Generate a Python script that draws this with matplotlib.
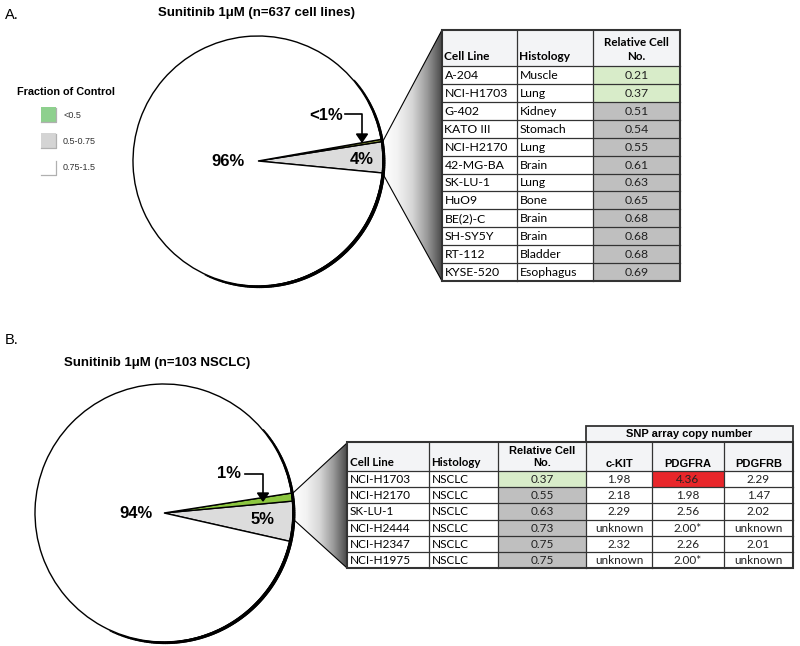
import numpy as np
import matplotlib.pyplot as plt
from matplotlib.patches import Rectangle, Polygon
from matplotlib.collections import LineCollection
from matplotlib.colors import LinearSegmentedColormap

# ---- data ----
# pie fractions (percent): <0.5, 0.5-0.75, 0.75-1.5
pie_a_values = [0.3, 4.0, 95.7]
pie_a_labels = ['<1%', '4%', '96%']
pie_b_values = [1.0, 5.0, 94.0]
pie_b_labels = ['1%', '5%', '94%']

legend_labels = ['<0.5', '0.5-0.75', '0.75-1.5']

a_cell_lines = ['A-204', 'NCI-H1703', 'G-402', 'KATO III', 'NCI-H2170', '42-MG-BA',
                'SK-LU-1', 'HuO9', 'BE(2)-C', 'SH-SY5Y', 'RT-112', 'KYSE-520']
a_histology = ['Muscle', 'Lung', 'Kidney', 'Stomach', 'Lung', 'Brain',
               'Lung', 'Bone', 'Brain', 'Brain', 'Bladder', 'Esophagus']
a_rel = [0.21, 0.37, 0.51, 0.54, 0.55, 0.61, 0.63, 0.65, 0.68, 0.68, 0.68, 0.69]

b_cell_lines = ['NCI-H1703', 'NCI-H2170', 'SK-LU-1', 'NCI-H2444', 'NCI-H2347', 'NCI-H1975']
b_histology = ['NSCLC'] * 6
b_rel = [0.37, 0.55, 0.63, 0.73, 0.75, 0.75]
b_ckit = ['1.98', '2.18', '2.29', 'unknown', '2.32', 'unknown']
b_pdgfra = ['4.36', '1.98', '2.56', '2.00*', '2.26', '2.00*']
b_pdgfrb = ['2.29', '1.47', '2.02', 'unknown', '2.01', 'unknown']

GREEN_CELL = '#d8ecc9'
GRAY_CELL = '#bfbfbf'
RED_CELL = '#e8262a'
HEAD = '#f3f4f6'
LINE = '#333333'
TFONT = 'Lato'
AFONT = 'Liberation Sans'
FS_A = 8.8
FS_B = 8.5

fig = plt.figure(figsize=(8, 6.46), dpi=100)
ax = fig.add_axes([0, 0, 1, 1])


def draw_pie(cx, cy, r, values, start, green):
    # values: green, gray, white ; y axis is flipped so angles are mirrored
    ax.pie([values[1], values[0], values[2]], colors=['#dcdcdc', green, 'white'],
           startangle=-start, counterclock=False, center=(cx, cy), radius=r,
           wedgeprops=dict(edgecolor='black', linewidth=1), frame=True)
    # shadowed lower-right rim
    th = np.linspace(-115, 40, 200)
    xs = cx + (r + 0.8) * np.cos(np.radians(th))
    ys = cy - (r + 0.8) * np.sin(np.radians(th))
    pts = np.column_stack([xs, ys]).reshape(-1, 1, 2)
    segs = np.concatenate([pts[:-1], pts[1:]], axis=1)
    w = 0.5 + 2.2 * np.sin(np.pi * (th[:-1] + 115) / 155) ** 0.6
    ax.add_collection(LineCollection(segs, linewidths=w, colors='black', capstyle='round'))


def draw_fan(pts):
    cmap = LinearSegmentedColormap.from_list('fan', ['white', '#f2f2f2', '#d6d6d6', '#9a9a9a', '#4a4a4a'])
    x0, x1 = pts[0][0], pts[1][0]
    ys = [p[1] for p in pts]
    im = ax.imshow(np.linspace(0, 1, 256)[None, :], cmap=cmap, aspect='auto',
                   extent=(x0, x1, max(ys), min(ys)), zorder=1)
    poly = Polygon(pts, closed=True, facecolor='none', edgecolor='none')
    ax.add_patch(poly)
    im.set_clip_path(poly)
    ax.plot([pts[0][0], pts[1][0]], [pts[0][1], pts[1][1]], color='black', lw=0.8, zorder=2)
    ax.plot([pts[3][0], pts[2][0]], [pts[3][1], pts[2][1]], color='black', lw=0.8, zorder=2)


def draw_arrow(x0, x1, y0, y1):
    ax.plot([x0, x1, x1], [y0, y0, y1 - 7], color='black', lw=1.2, zorder=4)
    ax.add_patch(Polygon([(x1 - 5.5, y1 - 8), (x1 + 5.5, y1 - 8), (x1, y1)],
                         closed=True, facecolor='black', edgecolor='black', zorder=4))


def rel_color(v):
    return GREEN_CELL if v < 0.5 else GRAY_CELL


# ---- panel A ----
ax.text(5, 15, 'A.', fontsize=10.5, family=AFONT, va='center')
ax.text(256, 13, 'Sunitinib 1μM (n=637 cell lines)', fontsize=9.5, weight='bold',
        family=AFONT, ha='center', va='center')

draw_fan([(383, 141), (442, 30), (442, 281), (383, 174)])
draw_pie(258, 161, 125, pie_a_values, -5.5, '#9aaa3a')
ax.text(228, 161, pie_a_labels[2], fontsize=12, weight='bold', family=AFONT, ha='center', va='center')
ax.text(362, 159, pie_a_labels[1], fontsize=12, weight='bold', family=AFONT, ha='center', va='center')
ax.text(326, 115, pie_a_labels[0], fontsize=12, weight='bold', family=AFONT, ha='center', va='center')
draw_arrow(345, 362, 114, 142)

# legend
ax.text(17, 92, 'Fraction of Control', fontsize=7.8, weight='bold', family=AFONT, va='center')
leg_colors = ['#8ed08e', '#d4d4d4', 'white']
leg_y = [107, 133, 160]
for c, y, lab in zip(leg_colors, leg_y, legend_labels):
    ax.add_patch(Rectangle((41, y), 15, 15, facecolor=c, edgecolor='none', zorder=3))
    ax.plot([56, 56, 41], [y + 1, y + 15, y + 15], color='#b0b0b0', lw=0.9, zorder=3)
    ax.text(63, y + 8, lab, fontsize=6.5, family=AFONT, va='center', color='#333333')

# table A
ca = [442, 517, 593, 680]
top_a, head_a, bot_a = 30, 66, 281
rh = (bot_a - head_a) / len(a_cell_lines)
ax.add_patch(Rectangle((ca[0], top_a), ca[-1] - ca[0], head_a - top_a, facecolor=HEAD, edgecolor='none', zorder=2))
for i, (cl, hs, v) in enumerate(zip(a_cell_lines, a_histology, a_rel)):
    y = head_a + i * rh
    ax.add_patch(Rectangle((ca[0], y), ca[2] - ca[0], rh, facecolor='white', edgecolor='none', zorder=2))
    ax.add_patch(Rectangle((ca[2], y), ca[3] - ca[2], rh, facecolor=rel_color(v), edgecolor='none', zorder=2))
    ax.text(ca[0] + 2.5, y + rh / 2 + 0.5, cl, fontsize=FS_A, family=TFONT, va='center', zorder=4)
    ax.text(ca[1] + 2.5, y + rh / 2 + 0.5, hs, fontsize=FS_A, family=TFONT, va='center', zorder=4)
    ax.text((ca[2] + ca[3]) / 2, y + rh / 2 + 0.5, f'{v:.2f}', fontsize=FS_A, family=TFONT,
            ha='center', va='center', color='#222222', zorder=4)
ax.text(ca[0] + 2.5, 57, 'Cell Line', fontsize=8.6, weight='bold', family=TFONT, va='center', zorder=4)
ax.text(ca[1] + 2.5, 57, 'Histology', fontsize=8.6, weight='bold', family=TFONT, va='center', zorder=4)
ax.text((ca[2] + ca[3]) / 2, 43, 'Relative Cell', fontsize=8.4, weight='bold', family=TFONT, ha='center', va='center', zorder=4)
ax.text((ca[2] + ca[3]) / 2, 57, 'No.', fontsize=8.4, weight='bold', family=TFONT, ha='center', va='center', zorder=4)
for x in ca[1:-1]:
    ax.plot([x, x], [top_a, bot_a], color=LINE, lw=0.9, zorder=3)
for i in range(len(a_cell_lines)):
    y = head_a + i * rh
    ax.plot([ca[0], ca[-1]], [y, y], color=LINE, lw=0.9, zorder=3)
ax.add_patch(Rectangle((ca[0], top_a), ca[-1] - ca[0], bot_a - top_a, facecolor='none', edgecolor=LINE, lw=1.5, zorder=3))

# ---- panel B ----
ax.text(5, 340, 'B.', fontsize=10.5, family=AFONT, va='center')
ax.text(157, 363, 'Sunitinib 1μM (n=103 NSCLC)', fontsize=9.5, weight='bold',
        family=AFONT, ha='center', va='center')

draw_fan([(293, 493), (347, 443), (347, 568), (293, 519)])
draw_pie(164, 513, 129, pie_b_values, -12.7, '#8cc63f')
ax.text(136, 513, pie_b_labels[2], fontsize=12, weight='bold', family=AFONT, ha='center', va='center')
ax.text(263, 519, pie_b_labels[1], fontsize=12, weight='bold', family=AFONT, ha='center', va='center')
ax.text(229, 474, pie_b_labels[0], fontsize=12, weight='bold', family=AFONT, ha='center', va='center')
draw_arrow(245, 263, 474, 501)

# table B
cb = [347, 429, 498, 586, 652, 724, 793]
snp_top, top_b, head_b, bot_b = 426, 442, 471, 568
rhb = (bot_b - head_b) / len(b_cell_lines)
ax.add_patch(Rectangle((cb[3], snp_top), cb[-1] - cb[3], top_b - snp_top, facecolor=HEAD, edgecolor=LINE, lw=1.3, zorder=3))
ax.text((cb[3] + cb[-1]) / 2, 434, 'SNP array copy number', fontsize=8, weight='bold', family=AFONT,
        ha='center', va='center', zorder=4)
ax.add_patch(Rectangle((cb[0], top_b), cb[-1] - cb[0], head_b - top_b, facecolor=HEAD, edgecolor='none', zorder=2))
for i in range(len(b_cell_lines)):
    y = head_b + i * rhb
    cells = [b_cell_lines[i], b_histology[i], f'{b_rel[i]:.2f}', b_ckit[i], b_pdgfra[i], b_pdgfrb[i]]
    fills = ['white', 'white', rel_color(b_rel[i]), 'white',
             RED_CELL if float(b_pdgfra[i].rstrip('*')) > 4 else 'white', 'white']
    for j, (txt, fc) in enumerate(zip(cells, fills)):
        ax.add_patch(Rectangle((cb[j], y), cb[j + 1] - cb[j], rhb, facecolor=fc, edgecolor='none', zorder=2))
        if j < 2:
            ax.text(cb[j] + 2.5, y + rhb / 2 + 0.5, txt, fontsize=FS_B, family=TFONT, va='center', zorder=4)
        else:
            ax.text((cb[j] + cb[j + 1]) / 2, y + rhb / 2 + 0.5, txt, fontsize=FS_B, family=TFONT,
                    ha='center', va='center', color='#222222', zorder=4)
ax.text(cb[0] + 2.5, 463, 'Cell Line', fontsize=8.3, weight='bold', family=TFONT, va='center', zorder=4)
ax.text(cb[1] + 2.5, 463, 'Histology', fontsize=8.3, weight='bold', family=TFONT, va='center', zorder=4)
ax.text((cb[2] + cb[3]) / 2, 451, 'Relative Cell', fontsize=8, weight='bold', family=AFONT, ha='center', va='center', zorder=4)
ax.text((cb[2] + cb[3]) / 2, 463, 'No.', fontsize=8, weight='bold', family=AFONT, ha='center', va='center', zorder=4)
for j, lab in enumerate(['c-KIT', 'PDGFRA', 'PDGFRB']):
    ax.text((cb[3 + j] + cb[4 + j]) / 2, 464, lab, fontsize=8, weight='bold', family=AFONT,
            ha='center', va='center', zorder=4)
for x in cb[1:-1]:
    ax.plot([x, x], [top_b, bot_b], color=LINE, lw=0.9, zorder=3)
for i in range(len(b_cell_lines)):
    y = head_b + i * rhb
    ax.plot([cb[0], cb[-1]], [y, y], color=LINE, lw=0.9, zorder=3)
ax.add_patch(Rectangle((cb[0], top_b), cb[-1] - cb[0], bot_b - top_b, facecolor='none', edgecolor=LINE, lw=1.5, zorder=3))

ax.set_xlim(0, 800)
ax.set_ylim(646, 0)
ax.set_aspect('auto')
ax.axis('off')
fig.savefig('out.png', dpi=100)
